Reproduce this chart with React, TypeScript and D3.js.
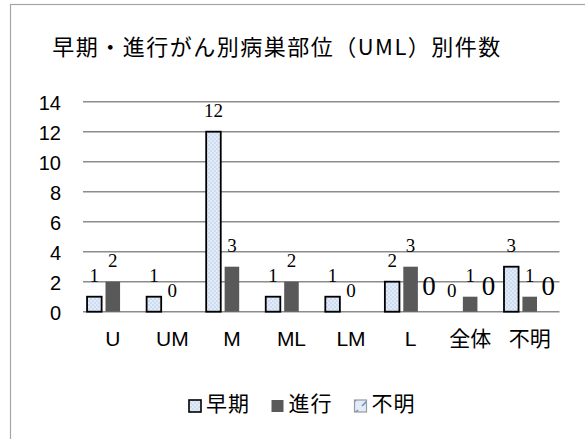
import React from "react";
import { scaleBand, scaleLinear } from "d3";

const categories = ["U", "UM", "M", "ML", "LM", "L", "全体", "不明"];
const earlyValues = [1, 1, 12, 1, 1, 2, 0, 3];
const advancedValues = [2, 0, 3, 2, 0, 3, 1, 1];
const unknownValues: (number | null)[] = [null, null, null, null, null, 0, 0, 0];
const seriesNames = ["早期", "進行", "不明"];
const yTicks = [0, 2, 4, 6, 8, 10, 12, 14];

const title = "早期・進行がん別病巣部位（UML）別件数";

export default function App() {
  const width = 585;
  const height = 439;
  const plot = { left: 83, right: 559.5, top: 101.7, bottom: 311.7 };

  const xScale = scaleBand<string>().domain(categories).range([plot.left, plot.right]);
  const inner = scaleBand<string>()
    .domain(seriesNames)
    .range([0, xScale.bandwidth()])
    .paddingInner(0.21)
    .paddingOuter(0.22);
  const yScale = scaleLinear().domain([0, 14]).range([plot.bottom, plot.top]);

  const sans = "'Liberation Sans', 'Noto Sans CJK JP', sans-serif";
  const cjk = "'Noto Sans CJK JP', sans-serif";
  const serif = "'Liberation Serif', 'DejaVu Serif', serif";

  const bars = [
    { name: seriesNames[0], values: earlyValues },
    { name: seriesNames[1], values: advancedValues },
    { name: seriesNames[2], values: unknownValues },
  ];

  const fills: Record<string, string> = {
    早期: "url(#earlyPat)",
    進行: "#595959",
    不明: "url(#unknownPat)",
  };

  const legendItems = [
    { name: "早期", x: 189, stroke: "#000", sw: 1.6 },
    { name: "進行", x: 271.5, stroke: "none", sw: 0 },
    { name: "不明", x: 354.5, stroke: "#9a9a9a", sw: 1.2 },
  ];

  return (
    <svg
      width={width}
      height={height}
      style={{ position: "absolute", left: 0, top: 0, background: "#fff" }}
    >
      <defs>
        <pattern id="earlyPat" width="4" height="4" patternUnits="userSpaceOnUse">
          <rect width="4" height="4" fill="#e2ecf8" />
          <rect x="0" y="0" width="2" height="2" fill="#cddcf0" />
          <rect x="2" y="2" width="2" height="2" fill="#cddcf0" />
        </pattern>
        <pattern id="unknownPat" width="12" height="12" patternUnits="userSpaceOnUse">
          <rect width="12" height="12" fill="#e2ecf8" />
          <line x1="2" y1="10" x2="10" y2="2" stroke="#5b8fd6" strokeWidth="1.6" />
        </pattern>
      </defs>

      <rect x={10.5} y={4.5} width={600} height={460} fill="#fff" stroke="#a6a6a6" strokeWidth={1.2} />

      <text
        x={277}
        y={55}
        textAnchor="middle"
        fontFamily={cjk}
        fontSize={22}
        letterSpacing={1.5}
        fill="#000"
      >
        {title}
      </text>

      {yTicks.map((t) => (
        <g key={t}>
          <line
            x1={plot.left}
            x2={plot.right}
            y1={yScale(t)}
            y2={yScale(t)}
            stroke="#8c8c8c"
            strokeWidth={1.5}
          />
          <text
            x={61}
            y={yScale(t) + 8}
            textAnchor="end"
            fontFamily={sans}
            fontSize={20}
            fill="#000"
          >
            {t}
          </text>
        </g>
      ))}

      {bars.map((s) =>
        s.values.map((v, i) => {
          if (v === null) return null;
          const x = (xScale(categories[i]) ?? 0) + (inner(s.name) ?? 0);
          const w = inner.bandwidth();
          const isUnknown = s.name === "不明";
          const isEarly = s.name === "早期";
          return (
            <g key={s.name + i}>
              {v > 0 && (
                <rect
                  x={x}
                  y={yScale(v)}
                  width={w}
                  height={yScale(0) - yScale(v)}
                  fill={fills[s.name]}
                  stroke={isEarly ? "#000" : "none"}
                  strokeWidth={isEarly ? 1.8 : 0}
                />
              )}
              <text
                x={x + w / 2}
                y={yScale(v) - (isUnknown ? 16.5 : 15)}
                textAnchor="middle"
                fontFamily={serif}
                fontSize={isUnknown ? 27 : 19}
                fill="#000"
              >
                {v}
              </text>
            </g>
          );
        })
      )}

      {categories.map((c) => (
        <text
          key={c}
          x={(xScale(c) ?? 0) + xScale.bandwidth() / 2}
          y={346}
          textAnchor="middle"
          fontFamily={sans}
          fontSize={21}
          fill="#000"
        >
          {c}
        </text>
      ))}

      {legendItems.map((d) => (
        <g key={d.name}>
          <rect
            x={d.x}
            y={400}
            width={12}
            height={12}
            fill={fills[d.name]}
            stroke={d.stroke}
            strokeWidth={d.sw}
          />
          <text x={d.x + 17} y={411} fontFamily={cjk} fontSize={21} letterSpacing={1} fill="#000">
            {d.name}
          </text>
        </g>
      ))}
    </svg>
  );
}
